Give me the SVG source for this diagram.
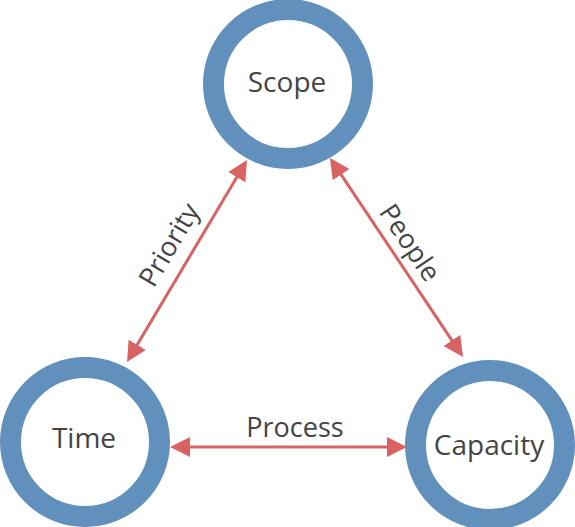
<svg xmlns="http://www.w3.org/2000/svg" width="575" height="527" viewBox="0 0 575 527">
  <style>
    .ring { fill: #ffffff; stroke: #6090BB; stroke-width: 21; }
    .label { font-family: "Open Sans", Lato, sans-serif; font-size: 28px; fill: #444444; text-anchor: middle; }
    .elabel { font-family: "Open Sans", Lato, sans-serif; font-size: 27px; fill: #444444; text-anchor: middle; }
    .conn { stroke: #D96262; stroke-width: 3; fill: none; marker-start: url(#arrow); marker-end: url(#arrow); }
  </style>
  <defs>
    <marker id="arrow" markerUnits="userSpaceOnUse" markerWidth="20" markerHeight="20" viewBox="0 0 20 20" refX="12" refY="10" orient="auto-start-reverse">
      <path d="M0,0 L20,10 L0,20 z" fill="#D96262"/>
    </marker>
  </defs>
  <rect width="575" height="527" fill="#ffffff"/>
  <g id="connectors">
    <line class="conn" x1="131.1" y1="355.1" x2="242.9" y2="166.9"/>
    <line class="conn" x1="334.4" y1="164.6" x2="458.6" y2="350.4"/>
    <line class="conn" x1="178" y1="447" x2="399" y2="447"/>
    <text class="elabel" transform="translate(171,246) rotate(-59.3)" x="0" y="7">Priority</text>
    <text class="elabel" transform="translate(408,244) rotate(56.2)" x="0" y="7">People</text>
    <text class="elabel" x="295" y="437">Process</text>
  </g>
  <g id="scope">
    <circle class="ring" cx="288" cy="84" r="74.5"/>
    <text class="label" x="287" y="92">Scope</text>
  </g>
  <g id="time">
    <circle class="ring" cx="85" cy="442" r="74.5"/>
    <text class="label" x="84" y="448">Time</text>
  </g>
  <g id="capacity">
    <circle class="ring" cx="490" cy="445" r="74.5"/>
    <text class="label" x="489" y="455">Capacity</text>
  </g>
</svg>
